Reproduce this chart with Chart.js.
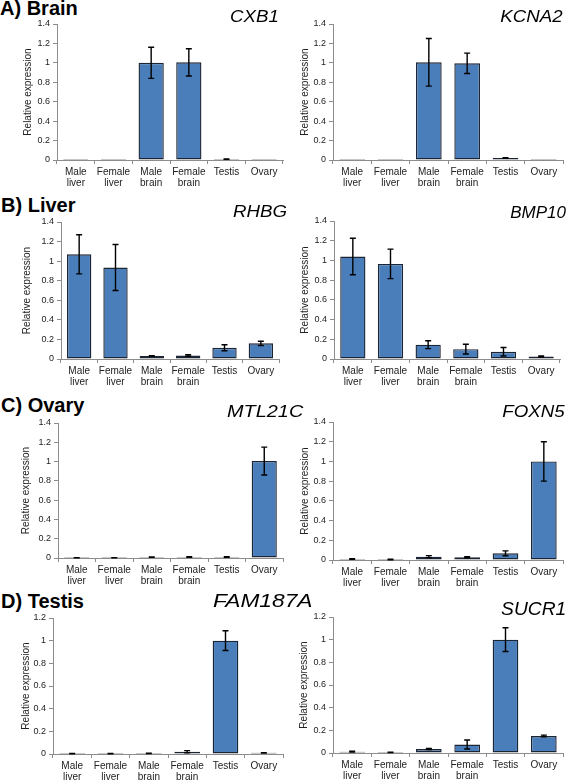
<!DOCTYPE html>
<html><head><meta charset="utf-8">
<script src="https://cdn.jsdelivr.net/npm/chart.js@4.4.1/dist/chart.umd.min.js"></script>
<style>
html,body{margin:0;padding:0;background:#fff;width:567px;height:782px;overflow:hidden;position:relative;font-family:"Liberation Sans",Arial,sans-serif;}
.panel{position:absolute;}
.panel canvas{display:block;}
.hdr{position:absolute;font-weight:bold;font-size:20px;line-height:20px;white-space:nowrap;color:#000;}
.gene{position:absolute;font-style:italic;white-space:nowrap;color:#000;}
</style></head><body>
<script>
// ---------- data ----------
const categories = ['Male liver', 'Female liver', 'Male brain', 'Female brain', 'Testis', 'Ovary'];

const cxb1Values    = [0.005, 0.005, 1.000, 1.005, 0.008, 0.005];
const cxb1Errors    = [0, 0, 0.160, 0.140, 0.002, 0];
const kcna2Values   = [0.004, 0, 1.005, 0.995, 0.020, 0];
const kcna2Errors   = [0, 0, 0.245, 0.105, 0.003, 0];
const rhbgValues    = [1.070, 0.935, 0.030, 0.035, 0.115, 0.160];
const rhbgErrors    = [0.200, 0.235, 0.003, 0.008, 0.030, 0.022];
const bmp10Values   = [1.040, 0.965, 0.145, 0.100, 0.073, 0.025];
const bmp10Errors   = [0.185, 0.150, 0.040, 0.050, 0.043, 0.006];
const mtl21cValues  = [0.003, 0.003, 0.008, 0.010, 0.010, 1.005];
const mtl21cErrors  = [0.001, 0.001, 0.002, 0.004, 0.003, 0.145];
const foxn5Values   = [0.010, 0.005, 0.034, 0.028, 0.068, 1.000];
const foxn5Errors   = [0.003, 0.002, 0.010, 0.005, 0.025, 0.200];
const fam187aValues = [0.003, 0.003, 0.005, 0.020, 1.000, 0.010];
const fam187aErrors = [0.001, 0.001, 0.002, 0.010, 0.087, 0.002];
const sucr1Values   = [0.012, 0.006, 0.035, 0.075, 1.000, 0.150];
const sucr1Errors   = [0.003, 0.002, 0.005, 0.040, 0.105, 0.008];

const yMaxRows = [1.4, 1.4, 1.4, 1.2];
const yStep = 0.2;
const yTitle = 'Relative expression';
const sectionTitles = ['A) Brain', 'B) Liver', 'C) Ovary', 'D) Testis'];

// ---------- layout (positions/styles only) ----------
const headers = [
  {text: sectionTitles[0], left: 0, top: -2},
  {text: sectionTitles[1], left: 1, top: 195},
  {text: sectionTitles[2], left: 1, top: 395},
  {text: sectionTitles[3], left: 1, top: 591}
];

const panels = [
  {gene:'CXB1',    values:cxb1Values,    errors:cxb1Errors,    ymax:yMaxRows[0], cl:0,   ct:14,  cw:287, ch:180, pt:10, pr:4, wy:57, tp:22, g:{left:230, top:8,   size:17, sx:1.1}},
  {gene:'KCNA2',   values:kcna2Values,   errors:kcna2Errors,   ymax:yMaxRows[0], cl:285, ct:14,  cw:282, ch:180, pt:10, pr:4, wy:48, tp:14, g:{right:4, top:8,    size:17, sx:1.1}},
  {gene:'RHBG',    values:rhbgValues,    errors:rhbgErrors,    ymax:yMaxRows[1], cl:0,   ct:212, cw:287, ch:181, pt:10, pr:8, wy:61, tp:21, g:{left:233, top:203, size:17, sx:1.1}},
  {gene:'BMP10',   values:bmp10Values,   errors:bmp10Errors,   ymax:yMaxRows[1], cl:285, ct:211, cw:282, ch:182, pt:10, pr:7, wy:49, tp:14, g:{right:1, top:204,  size:17, sx:1.0}},
  {gene:'MTL21C',  values:mtl21cValues,  errors:mtl21cErrors,  ymax:yMaxRows[2], cl:0,   ct:413, cw:287, ch:179, pt:10, pr:4, wy:58, tp:20, g:{left:227, top:403, size:17, sx:1.17}},
  {gene:'FOXN5',   values:foxn5Values,   errors:foxn5Errors,   ymax:yMaxRows[2], cl:285, ct:412, cw:282, ch:182, pt:10, pr:4, wy:48, tp:14, g:{right:2, top:403,  size:17, sx:1.1}},
  {gene:'FAM187A', values:fam187aValues, errors:fam187aErrors, ymax:yMaxRows[3], cl:0,   ct:608, cw:287, ch:180, pt:10, pr:4, wy:53, tp:20, g:{left:213, top:593, size:17.5, sx:1.3}},
  {gene:'SUCR1',   values:sucr1Values,   errors:sucr1Errors,   ymax:yMaxRows[3], cl:285, ct:607, cw:282, ch:180, pt:10, pr:4, wy:48, tp:13, g:{right:1, top:601,  size:17.5, sx:1.1}}
];

const labelFont = '"Liberation Sans",Arial,sans-serif';
const baseFont = '"Liberation Sans",Arial,sans-serif';
const axisColor = '#8c8c8c';

const errorBarPlugin = {
  id: 'errorBars',
  afterDatasetsDraw(chart) {
    const ctx = chart.ctx;
    const ys = chart.scales.y;
    chart.data.datasets.forEach((ds, di) => {
      const meta = chart.getDatasetMeta(di);
      ctx.save();
      ctx.strokeStyle = '#000';
      ctx.lineWidth = 1.4;
      ds.data.forEach((v, i) => {
        const e = ds.errors[i];
        if (!e) return;
        const x = meta.data[i].x;
        const yT = ys.getPixelForValue(v + e);
        const yB = ys.getPixelForValue(Math.max(v - e, 0));
        ctx.beginPath();
        ctx.moveTo(x, yT); ctx.lineTo(x, yB);
        ctx.moveTo(x - 3, yT); ctx.lineTo(x + 3, yT);
        ctx.moveTo(x - 3, yB); ctx.lineTo(x + 3, yB);
        ctx.stroke();
      });
      ctx.restore();
    });
  }
};

headers.forEach(h => {
  const d = document.createElement('div');
  d.className = 'hdr';
  d.textContent = h.text;
  d.style.left = h.left + 'px';
  d.style.top = h.top + 'px';
  document.body.appendChild(d);
});

const catLabels = categories.map(c => c.split(' '));

panels.forEach(p => {
  const div = document.createElement('div');
  div.className = 'panel';
  div.style.left = p.cl + 'px';
  div.style.top = p.ct + 'px';
  div.style.width = p.cw + 'px';
  div.style.height = p.ch + 'px';
  const canvas = document.createElement('canvas');
  canvas.width = p.cw; canvas.height = p.ch;
  div.appendChild(canvas);
  document.body.appendChild(div);

  new Chart(canvas, {
    type: 'bar',
    data: {
      labels: catLabels,
      datasets: [{
        data: p.values,
        errors: p.errors,
        backgroundColor: '#4a7ebb',
        borderColor: '#1c2533',
        borderWidth: 1.4,
        borderSkipped: false,
        barPercentage: 0.67,
        categoryPercentage: 1,
        minBarLength: 1
      }]
    },
    options: {
      responsive: false,
      animation: false,
      devicePixelRatio: 1,
      layout: {padding: {top: p.pt, right: p.pr, left: 0, bottom: 0}},
      plugins: {legend: {display: false}, tooltip: {enabled: false}, title: {display: false}},
      scales: {
        x: {
          offset: true,
          grid: {display: true, drawOnChartArea: false, drawTicks: true, tickLength: 4, color: axisColor, offset: true},
          border: {color: axisColor, width: 1},
          ticks: {font: {family: labelFont, size: 10, lineHeight: 1.1}, color: '#222', padding: 3, maxRotation: 0, autoSkip: false},
          afterFit: s => { s.height = 34; }
        },
        y: {
          min: 0, max: p.ymax,
          grid: {display: true, drawOnChartArea: false, drawTicks: true, tickLength: 4, color: axisColor},
          border: {color: axisColor, width: 1},
          ticks: {stepSize: yStep, font: {family: baseFont, size: 9}, color: '#222', padding: 3,
                  callback: v => String(Math.round(v * 10) / 10)},
          title: {display: true, text: yTitle, font: {family: baseFont, size: 10}, color: '#222', padding: {top: p.tp, bottom: 0}},
          afterFit: s => { s.width = p.wy; }
        }
      }
    },
    plugins: [errorBarPlugin]
  });

  const g = document.createElement('div');
  g.className = 'gene';
  g.textContent = p.gene;
  g.style.fontSize = p.g.size + 'px';
  g.style.lineHeight = p.g.size + 'px';
  g.style.top = p.g.top + 'px';
  if (p.g.left !== undefined) { g.style.left = p.g.left + 'px'; g.style.transformOrigin = 'left top'; }
  else { g.style.right = p.g.right + 'px'; g.style.transformOrigin = 'right top'; }
  g.style.transform = 'scaleX(' + p.g.sx + ')';
  document.body.appendChild(g);
});
</script>
</body></html>
